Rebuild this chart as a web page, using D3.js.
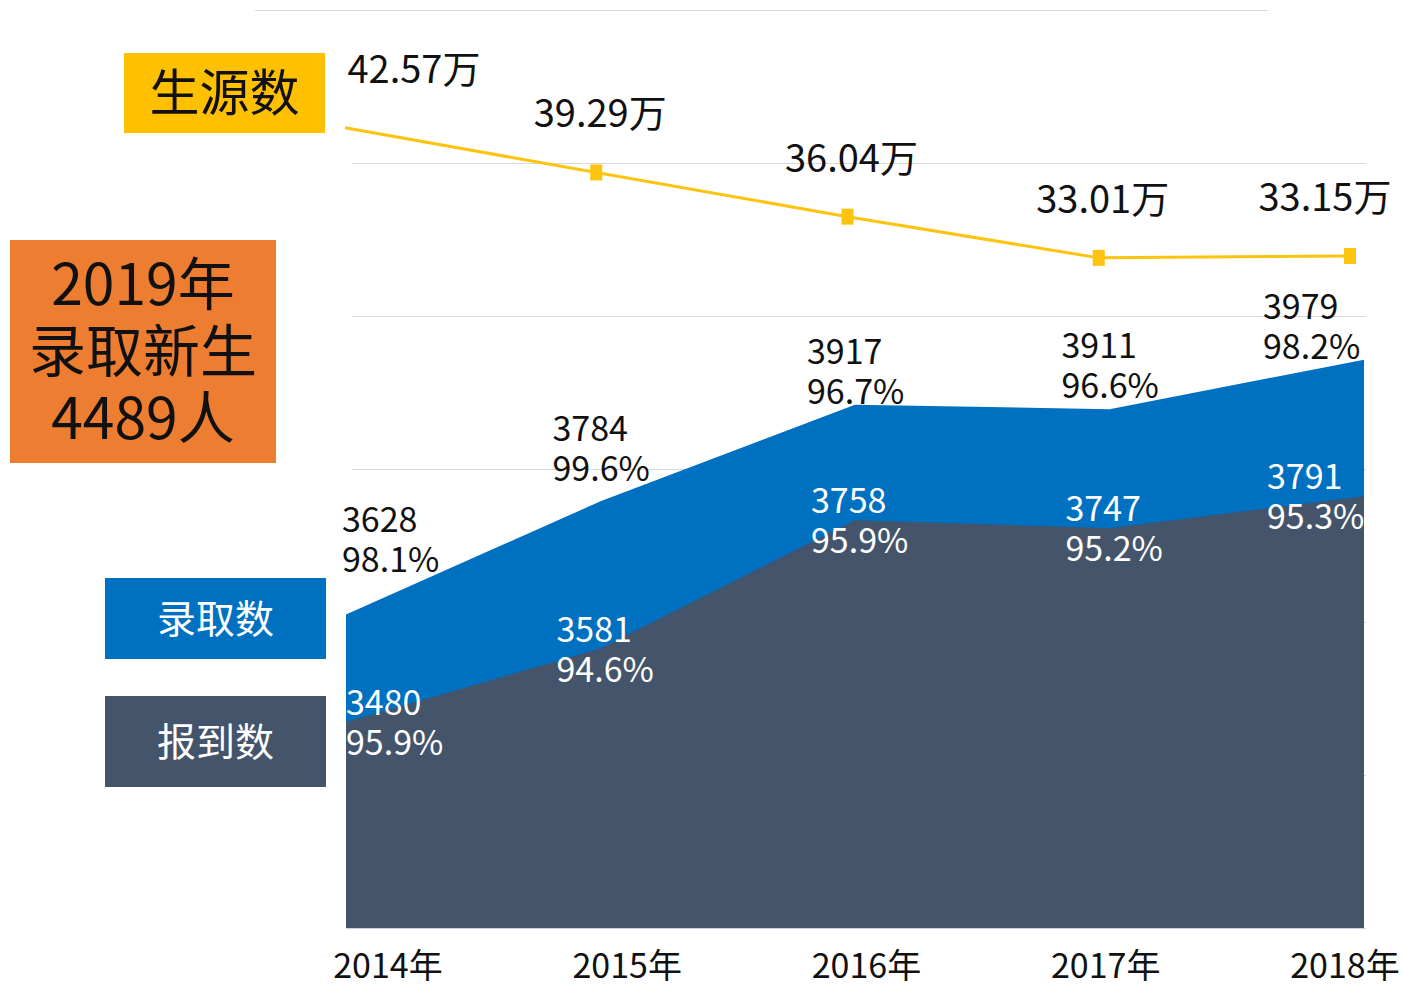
<!DOCTYPE html>
<html>
<head>
<meta charset="utf-8">
<script src="https://cdn.jsdelivr.net/npm/d3@7"></script>
<style>
  html, body { margin: 0; padding: 0; background: #fff; }
  svg { display: block; font-family: "Noto Sans CJK SC", "Noto Sans", sans-serif; }
</style>
</head>
<body>
<svg id="chart" width="1403" height="987"></svg>
<script>
// chart data
const years = ['2014年', '2015年', '2016年', '2017年', '2018年'];
const admitted = [3628, 3784, 3917, 3911, 3979];          // 录取数
const admittedRate = ['98.1%', '99.6%', '96.7%', '96.6%', '98.2%'];
const enrolled = [3480, 3581, 3758, 3747, 3791];          // 报到数
const enrolledRate = ['95.9%', '94.6%', '95.9%', '95.2%', '95.3%'];
const applicants = [42.57, 39.29, 36.04, 33.01, 33.15];   // 生源数 (万)
const gridSteps = [0, 1, 2, 3, 4, 5, 6];

const svg = d3.select('#chart');

// scales
const x = d3.scalePoint().domain(years).range([346, 1364]);
const xLine = d3.scalePoint().domain(years).range([345, 1350]);
const xTick = d3.scalePoint().domain(years).range([388, 1345]);
const y = d3.scaleLinear().domain([3196, 4461]).range([928, 10]);
const yLine = d3.scaleLinear().domain([33, 43]).range([258, 122]);
const yGrid = d3.scaleLinear().domain([0, 6]).range([928, 10]);

// label left edge: a bit left of the point, kept inside the plot
const labelLeft = yr => Math.max(342, Math.min(1263, x(yr) - 48));

// gridlines
svg.append('g')
    .selectAll('line')
    .data(gridSteps)
    .enter()
    .append('line')
    .attr('x1', d => d === 6 ? 255 : 352)
    .attr('x2', d => d === 6 ? 1268 : 1366)
    .attr('y1', d => Math.round(yGrid(d)) + 0.5)
    .attr('y2', d => Math.round(yGrid(d)) + 0.5)
    .attr('stroke', '#d9d9d9')
    .attr('stroke-width', 1);

// areas: 录取数 behind, 报到数 in front
const area = d3.area()
    .x((d, i) => x(years[i]))
    .y0(y(3196))
    .y1(d => y(d));

svg.append('path')
    .datum(admitted)
    .attr('d', area)
    .attr('fill', '#0070c0');

svg.append('path')
    .datum(enrolled)
    .attr('d', area)
    .attr('fill', '#44546a');

// top of the blue area at any x (for placing labels just above it)
function admittedTopAt(px) {
    const xs = years.map(yr => x(yr));
    for (let i = 0; i < xs.length - 1; i++) {
        if (px <= xs[i + 1]) {
            const t = Math.max(0, (px - xs[i]) / (xs[i + 1] - xs[i]));
            return y(admitted[i]) + t * (y(admitted[i + 1]) - y(admitted[i]));
        }
    }
    return y(admitted[admitted.length - 1]);
}

// admitted labels (black, above the blue area)
const labelW = 96;
svg.append('g')
    .selectAll('text')
    .data(admitted)
    .enter()
    .append('text')
    .attr('font-size', 34)
    .attr('fill', '#111')
    .each(function (d, i) {
        const lx = labelLeft(years[i]);
        const base = Math.min(admittedTopAt(lx), admittedTopAt(Math.min(lx + labelW, 1364))) - 2;
        const t = d3.select(this);
        t.append('tspan').attr('x', lx).attr('y', base - 40).text(d);
        t.append('tspan').attr('x', lx).attr('y', base).text(admittedRate[i]);
    });

// enrolled labels (white, across the dark edge)
svg.append('g')
    .selectAll('text')
    .data(enrolled)
    .enter()
    .append('text')
    .attr('font-size', 34)
    .attr('fill', '#fff')
    .each(function (d, i) {
        const lx = labelLeft(years[i]) + 4;
        const base = y(d) - 7;
        const t = d3.select(this);
        t.append('tspan').attr('x', lx).attr('y', base).text(d);
        t.append('tspan').attr('x', lx).attr('y', base + 40).text(enrolledRate[i]);
    });

// bottom axis line
svg.append('line')
    .attr('x1', 346).attr('x2', 1364)
    .attr('y1', 928.5).attr('y2', 928.5)
    .attr('stroke', '#c9d2de');

// x axis labels
svg.append('g')
    .selectAll('text')
    .data(years)
    .enter()
    .append('text')
    .attr('x', d => xTick(d))
    .attr('y', 978)
    .attr('text-anchor', 'middle')
    .attr('font-size', 34)
    .attr('fill', '#111')
    .text(d => d);

// 生源数 line
const line = d3.line()
    .x((d, i) => xLine(years[i]))
    .y(d => yLine(d));

svg.append('path')
    .datum(applicants)
    .attr('d', line)
    .attr('fill', 'none')
    .attr('stroke', '#fcc30f')
    .attr('stroke-width', 3);

svg.append('g')
    .selectAll('rect')
    .data(applicants.slice(1))
    .enter()
    .append('rect')
    .attr('x', (d, i) => xLine(years[i + 1]) - 6)
    .attr('y', d => yLine(d) - 8)
    .attr('width', 12)
    .attr('height', 16)
    .attr('fill', '#fcc30f');

svg.append('g')
    .selectAll('text')
    .data(applicants)
    .enter()
    .append('text')
    .attr('x', (d, i) => Math.max(414, Math.min(1325, xLine(years[i]) + 4)))
    .attr('y', d => yLine(d) - 45)
    .attr('text-anchor', 'middle')
    .attr('font-size', 38)
    .attr('fill', '#111')
    .text(d => d.toFixed(2) + '万');

// legend / annotation boxes
function box(bx, by, bw, bh, fill, lines, size, color, lineGap) {
    const g = svg.append('g');
    g.append('rect')
        .attr('x', bx).attr('y', by)
        .attr('width', bw).attr('height', bh)
        .attr('fill', fill);
    const cy = by + bh / 2 - (lines.length - 1) * lineGap / 2;
    lines.forEach((txt, i) => {
        g.append('text')
            .attr('x', bx + bw / 2)
            .attr('y', cy + i * lineGap)
            .attr('dy', '0.36em')
            .attr('text-anchor', 'middle')
            .attr('font-size', size)
            .attr('fill', color)
            .text(txt);
    });
}

box(124, 53, 201, 80, '#ffc000', ['生源数'], 50, '#111', 0);
box(10, 240, 266, 223, '#ed7d31', ['2019年', '录取新生', '4489人'], 57, '#111', 67);
box(105, 578, 221, 81, '#0070c0', ['录取数'], 39, '#fff', 0);
box(105, 696, 221, 91, '#44546a', ['报到数'], 39, '#fff', 0);
</script>
</body>
</html>
